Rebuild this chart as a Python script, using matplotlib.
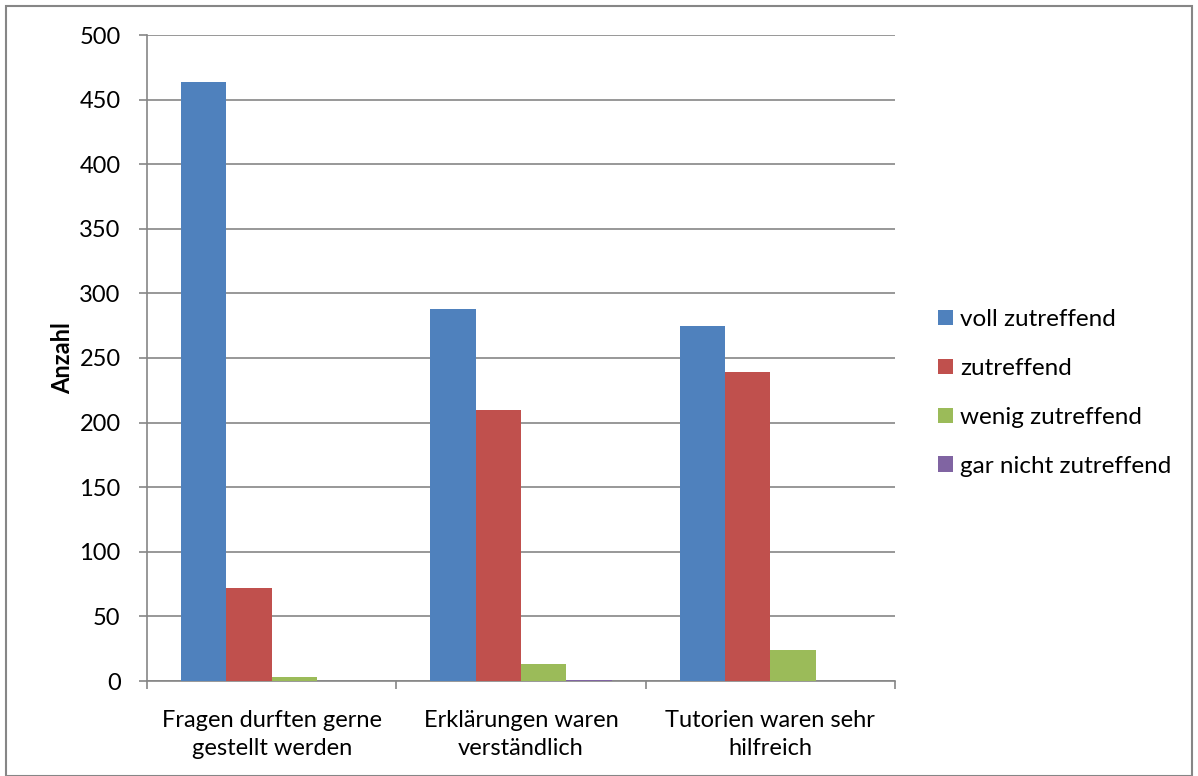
import matplotlib
matplotlib.use("Agg")
import matplotlib.pyplot as plt
from matplotlib.patches import Patch, Rectangle
import numpy as np

plt.rcParams['font.family'] = ['Lato', 'DejaVu Sans']

categories = ["Fragen durften gerne\ngestellt werden", "Erklärungen waren\nverständlich", "Tutorien waren sehr\nhilfreich"]
series_names = ["voll zutreffend", "zutreffend", "wenig zutreffend", "gar nicht zutreffend"]
voll = [464, 288, 275]
zutreffend = [72, 210, 239]
wenig = [3, 13, 24]
gar_nicht = [0, 1, 0]
yticks = [0, 50, 100, 150, 200, 250, 300, 350, 400, 450, 500]

colors = ["#4F81BD", "#C0504D", "#9BBB59", "#8064A2"]
series = [voll, zutreffend, wenig, gar_nicht]

FS = 17
fig = plt.figure(figsize=(11.98, 7.76), dpi=100)
W, H = 1198, 776
ax = fig.add_axes([147 / W, 1 - 681 / H, (895 - 147) / W, (681 - 35) / H])

n = len(series)
w = 1 / (n + 1.5)
x = np.arange(len(categories))
for i, (vals, c) in enumerate(zip(series, colors)):
    offs = (i - (n - 1) / 2) * w
    ax.bar(x + offs, vals, width=w, color=c, edgecolor='none', zorder=3)

ax.set_xlim(-0.5, len(categories) - 0.5)
ax.set_ylim(0, 500)
ax.set_yticks(yticks)
ax.yaxis.grid(True, color='#868686', linewidth=1.2, zorder=0)
ax.set_axisbelow(True)

ax.set_xticks(x)
ax.set_xticklabels(categories, fontsize=FS, linespacing=1.42)
ax.set_xticks(np.arange(len(categories) + 1) - 0.5, minor=True)
ax.tick_params(axis='x', which='major', length=0, pad=21)
ax.tick_params(axis='x', which='minor', length=6, width=1.2, color='#868686')
ax.tick_params(axis='y', length=6, width=1.2, color='#868686', labelsize=FS, pad=13)

for s in ['top', 'right']:
    ax.spines[s].set_visible(False)
for s in ['left', 'bottom']:
    ax.spines[s].set_color('#868686')
    ax.spines[s].set_linewidth(1.2)

ax.set_ylabel("Anzahl", fontsize=FS, fontweight='bold', labelpad=4)

handles = [Patch(facecolor=c, edgecolor='none') for c in colors]
leg = fig.legend(handles, series_names, loc='center left', bbox_to_anchor=(938 / W, 1 - 393 / H),
                 frameon=False, fontsize=17.5, handlelength=0.62, handleheight=0.62,
                 handletextpad=0.3, labelspacing=1.15, borderaxespad=0, borderpad=0)

fig.patches.append(Rectangle((6 / W, 0), (1192 - 6) / W, 1 - 6 / H, transform=fig.transFigure,
                             fill=False, edgecolor='#868686', linewidth=1.5))

fig.savefig("out.png", dpi=100)
